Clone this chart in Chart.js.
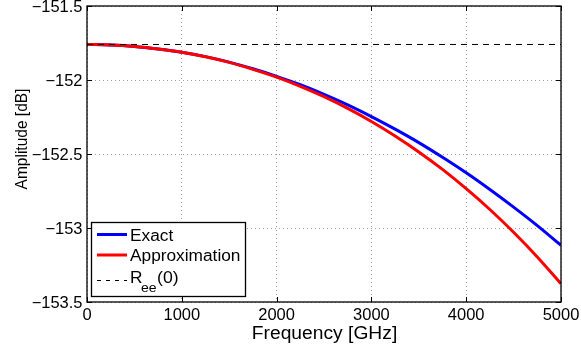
<!DOCTYPE html>
<html>
<head>
<meta charset="utf-8">
<script src="https://cdn.jsdelivr.net/npm/chart.js@4/dist/chart.umd.min.js"></script>
<style>
  html, body { margin: 0; padding: 0; background: #fff; }
  #wrap { width: 581px; height: 350px; }
</style>
</head>
<body>
<div id="wrap"><canvas id="amp-chart" width="581" height="350"></canvas></div>
<script>
// frequency grid (GHz) and the two amplitude curves (dB)
const freqGHz = [0, 250, 500, 750, 1000, 1250, 1500, 1750, 2000, 2250, 2500,
  2750, 3000, 3250, 3500, 3750, 4000, 4250, 4500, 4750, 5000];
const exactDb = [-151.760, -151.763, -151.773, -151.790, -151.812, -151.842,
  -151.879, -151.924, -151.975, -152.032, -152.097, -152.168, -152.247,
  -152.332, -152.423, -152.522, -152.627, -152.740, -152.859, -152.984, -153.117];
const approxDb = [-151.760, -151.763, -151.773, -151.790, -151.812, -151.843,
  -151.881, -151.928, -151.981, -152.043, -152.113, -152.192, -152.280,
  -152.378, -152.486, -152.604, -152.734, -152.875, -153.029, -153.196, -153.377];

// flat reference level R_ee(0)
const reeFreq = [0, 5000];
const reeDb = [-151.760, -151.760];

const xTicks = [0, 1000, 2000, 3000, 4000, 5000];
const xTickLabels = ['0', '1000', '2000', '3000', '4000', '5000'];
const yTicks = [-153.5, -153, -152.5, -152, -151.5];
const yTickLabels = ['\u2212153.5', '\u2212153', '\u2212152.5', '\u2212152', '\u2212151.5'];

const FONT = '"Liberation Sans", Arial, Helvetica, sans-serif';

const toPoints = (xs, ys) => xs.map((x, i) => ({ x, y: ys[i] }));

// text drawn slightly wider than the font's natural width
const wideText = (ctx, text, x, y, align, size, sx) => {
  ctx.save();
  ctx.font = `${size}px ${FONT}`;
  ctx.translate(x, y);
  ctx.scale(sx, 1);
  ctx.textAlign = align;
  ctx.textBaseline = 'alphabetic';
  ctx.fillStyle = '#000';
  ctx.fillText(text, 0, 0);
  ctx.restore();
};

const axesFrame = {
  id: 'axesFrame',
  afterDatasetsDraw(chart) {
    const { ctx, chartArea: a, scales: { x, y } } = chart;
    ctx.save();
    ctx.strokeStyle = '#000';
    ctx.lineWidth = 1;
    // inward tick marks on all four sides
    ctx.beginPath();
    xTicks.forEach(v => {
      const px = Math.round(x.getPixelForValue(v)) + 0.5;
      ctx.moveTo(px, a.bottom); ctx.lineTo(px, a.bottom - 5);
      ctx.moveTo(px, a.top); ctx.lineTo(px, a.top + 5);
    });
    yTicks.forEach(v => {
      const py = Math.round(y.getPixelForValue(v)) + 0.5;
      ctx.moveTo(a.left, py); ctx.lineTo(a.left + 5, py);
      ctx.moveTo(a.right, py); ctx.lineTo(a.right - 5, py);
    });
    ctx.stroke();
    ctx.lineWidth = 1.3;
    ctx.strokeRect(a.left, a.top, a.right - a.left, a.bottom - a.top);
    ctx.restore();

    xTicks.forEach((v, i) => {
      wideText(ctx, xTickLabels[i], x.getPixelForValue(v), a.bottom + 17.5, 'center', 16, 1.03);
    });
    yTicks.forEach((v, i) => {
      wideText(ctx, yTickLabels[i], a.left - 4.5, y.getPixelForValue(v) + 5.7, 'right', 16, 1.03);
    });

    // axis titles
    wideText(ctx, 'Frequency [GHz]', (a.left + a.right) / 2 + 0.5, 338.5, 'center', 17.5, 1.1);
    ctx.save();
    ctx.translate(27, 139);
    ctx.rotate(-Math.PI / 2);
    ctx.scale(1, 1.12);
    ctx.font = `15.5px ${FONT}`;
    ctx.textAlign = 'center';
    ctx.fillStyle = '#000';
    ctx.fillText('Amplitude [dB]', 0, 0);
    ctx.restore();
  }
};

// legend box in the lower left corner
const legendBox = {
  id: 'legendBox',
  afterDraw(chart) {
    const { ctx } = chart;
    const ds = chart.data.datasets;
    ctx.save();
    ctx.fillStyle = '#fff';
    ctx.fillRect(91.5, 222.5, 154, 74);
    ctx.strokeStyle = '#000';
    ctx.lineWidth = 1.3;
    ctx.strokeRect(91.5, 222.5, 154, 74);

    const rows = [234.5, 255, 280.5];
    ds.forEach((d, i) => {
      ctx.beginPath();
      ctx.strokeStyle = d.borderColor;
      ctx.lineWidth = d.borderWidth;
      ctx.setLineDash(d.borderDash ? [4, 5] : []);
      ctx.moveTo(97, rows[i]);
      ctx.lineTo(127, rows[i]);
      ctx.stroke();
    });
    ctx.setLineDash([]);
    ctx.restore();

    wideText(ctx, ds[0].label, 130, 240.7, 'left', 16, 1.08);
    wideText(ctx, ds[1].label, 130, 261, 'left', 16, 1.08);
    wideText(ctx, 'R', 130, 283, 'left', 16, 1.08);
    wideText(ctx, 'ee', 141, 292, 'left', 13, 1.08);
    wideText(ctx, '(0)', 157, 283, 'left', 16.4, 1.08);
  }
};

new Chart(document.getElementById('amp-chart'), {
  type: 'line',
  data: {
    datasets: [
      {
        label: 'Exact',
        data: toPoints(freqGHz, exactDb),
        borderColor: '#0000ff',
        borderWidth: 3,
        pointRadius: 0,
        tension: 0.3,
        order: 2
      },
      {
        label: 'Approximation',
        data: toPoints(freqGHz, approxDb),
        borderColor: '#ff0000',
        borderWidth: 3,
        pointRadius: 0,
        tension: 0.3,
        order: 1
      },
      {
        label: 'R_ee(0)',
        data: toPoints(reeFreq, reeDb),
        borderColor: '#000',
        borderWidth: 1,
        borderDash: [6, 5],
        pointRadius: 0,
        order: 0
      }
    ]
  },
  options: {
    responsive: false,
    animation: false,
    events: [],
    layout: { padding: { left: 0, right: 20, top: 6, bottom: 0 } },
    plugins: {
      legend: { display: false },
      tooltip: { enabled: false }
    },
    scales: {
      x: {
        type: 'linear',
        min: 0,
        max: 5000,
        afterBuildTicks: s => { s.ticks = xTicks.map(v => ({ value: v })); },
        afterFit: s => { s.height = 48; s.paddingLeft = 0; s.paddingRight = 0; },
        ticks: { display: false },
        grid: { color: '#a0a0a0', lineWidth: 1, drawTicks: false },
        border: { display: false, dash: [1, 3] }
      },
      y: {
        type: 'linear',
        min: -153.5,
        max: -151.5,
        afterBuildTicks: s => { s.ticks = yTicks.map(v => ({ value: v })); },
        afterFit: s => { s.width = 87; s.paddingTop = 0; s.paddingBottom = 0; },
        ticks: { display: false },
        grid: { color: '#a0a0a0', lineWidth: 1, drawTicks: false },
        border: { display: false, dash: [1, 3] }
      }
    }
  },
  plugins: [axesFrame, legendBox]
});
</script>
</body>
</html>
